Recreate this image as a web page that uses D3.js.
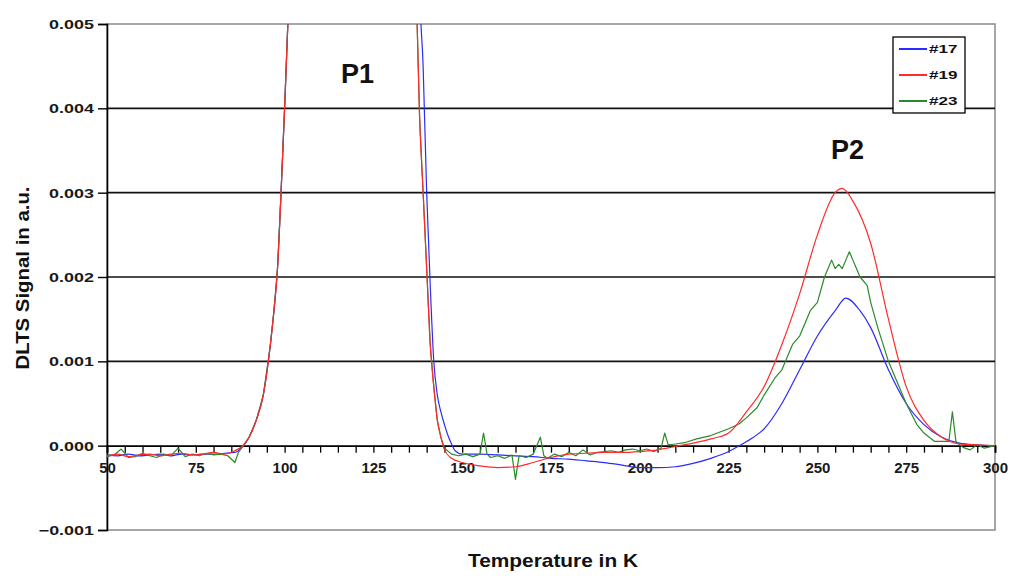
<!DOCTYPE html>
<html>
<head>
<meta charset="utf-8">
<script src="https://cdn.jsdelivr.net/npm/d3@7"></script>
<style>
  html, body { margin: 0; padding: 0; background: #fff; }
  svg { display: block; font-family: "Liberation Sans", Arial, sans-serif; }
</style>
</head>
<body>
<svg id="chart" width="1016" height="576"></svg>
<script>
// ---------- data ----------
const seriesNames = ["#17", "#19", "#23"];
const seriesColors = ["#2b2bff", "#ff2b2b", "#2a8a2a"];

const t17 = [50,53,56,59,62,65,68,71,74,77,80,83,86,88,90,92,94,96,97,98,99,100,101,103,110,130,136,137,138,139,140,141,142,143,144,145,146,147,148,150,155,160,165,170,175,180,185,190,195,200,205,210,215,220,225,228,232,235,240,245,250,255,258,262,265,270,275,280,285,290,295,300];
const v17 = [-0.00011,-0.00012,-0.0001,-0.00012,-0.00011,-0.0001,-0.00012,-0.0001,-0.00011,-0.0001,-0.0001,-0.00009,-0.00008,-0.00002,0.0001,0.0003,0.0006,0.0012,0.0016,0.0021,0.003,0.004,0.0051,0.008,0.02,0.02,0.012,0.009,0.0055,0.0045,0.003,0.0019,0.001,0.0006,0.0004,0.00025,0.00012,0.00002,-0.00006,-0.0001,-0.0001,-0.00011,-0.00012,-0.00013,-0.00015,-0.00016,-0.00018,-0.0002,-0.00023,-0.00026,-0.00026,-0.00025,-0.00021,-0.00015,-0.00007,0,0.0001,0.0002,0.0005,0.0009,0.0013,0.0016,0.00175,0.0016,0.0014,0.0009,0.0005,0.00025,0.0001,0.00003,0.00001,0];

const t19 = [50,53,56,59,62,65,68,71,74,77,80,83,86,88,90,92,94,96,97,98,99,100,101,103,110,130,135,136,137,138,139,140,141,142,143,144,145,147,150,155,160,165,170,175,180,185,190,195,200,205,210,215,220,225,230,235,240,245,250,255,257,260,265,270,275,280,285,290,295,300];
const v19 = [-0.00012,-0.0001,-0.00013,-0.00011,-0.0001,-0.00012,-0.0001,-0.00009,-0.00011,-0.0001,-0.00008,-0.0001,-0.00006,-0.00001,0.0001,0.0003,0.0006,0.0012,0.0016,0.0021,0.003,0.004,0.0051,0.008,0.02,0.02,0.009,0.0075,0.0055,0.0039,0.003,0.0021,0.0012,0.0007,0.0003,0.0001,-0.00005,-0.00015,-0.0002,-0.00024,-0.00026,-0.00025,-0.0002,-0.00014,-0.0001,-0.00009,-0.00008,-0.00008,-0.00007,-0.00005,-0.00001,0.00003,0.00008,0.00015,0.0004,0.0007,0.0012,0.0018,0.0025,0.003,0.00305,0.0029,0.0024,0.0015,0.0007,0.0003,0.0001,0.00002,0.00001,0];

const t23 = [50,52,54,56,58,60,62,64,66,68,70,72,74,76,78,80,82,84,86,87,88,90,92,94,96,97,98,99,100,101,103,110,130,135,136,137,138,139,140,141,142,143,144,145,147,149,151,153,155,156,157,158,160,162,164,165,166,168,170,172,173,174,176,178,180,182,184,186,188,190,192,194,196,198,200,202,204,206,207,208,210,213,216,220,225,228,230,233,235,238,240,243,245,248,250,252,253,254,255,256,257,258,259,260,261,262,264,265,267,270,272,275,278,280,283,285,287,288,289,291,293,295,297,300];
const v23 = [-0.00013,-0.00011,-0.00004,-0.00014,-0.00013,-0.00009,-0.00012,-0.00014,-0.0001,-0.00012,-0.00003,-0.00013,-0.0001,-0.00012,-0.00009,-0.00011,-0.0001,-0.00012,-0.0002,-0.00008,-0.00002,0.0001,0.0003,0.0006,0.0012,0.0016,0.0021,0.003,0.004,0.0051,0.008,0.02,0.02,0.009,0.0075,0.0055,0.0039,0.003,0.0021,0.0012,0.0007,0.0003,0.0001,-0.00003,-0.0001,-0.00012,-0.0001,-0.00013,-0.0001,0.00015,-0.0001,-0.00014,-0.00012,-0.00015,-0.00011,-0.0004,-0.00012,-0.00014,-0.0001,0.0001,-0.00012,-0.00015,-0.0001,-0.00013,-0.00008,-0.00012,-0.00005,-0.00011,-0.00008,-0.00007,-0.00006,-0.00008,-0.00005,-0.00004,-0.00006,-0.00004,-0.00007,-0.00003,0.00015,0.00001,0.00002,0.00004,0.00008,0.00012,0.0002,0.00026,0.00033,0.00045,0.0006,0.0008,0.0009,0.0012,0.0013,0.0016,0.0017,0.002,0.0021,0.0022,0.0021,0.00215,0.0021,0.0022,0.0023,0.0022,0.0021,0.002,0.0019,0.0017,0.0014,0.001,0.0008,0.0005,0.00025,0.00015,0.00005,0.00005,0.00005,0.0004,0.00005,-0.00002,-0.00005,0.00001,-0.00003,0];

const xTickLabels = [50, 75, 100, 125, 150, 175, 200, 225, 250, 275, 300];
const yTickLabels = [-0.001, 0.000, 0.001, 0.002, 0.003, 0.004, 0.005];
const peakLabels = ["P1", "P2"];
const peakPos = [[120.5, 0.0043], [258.5, 0.0034]];

// ---------- layout ----------
const svg = d3.select("#chart");
const L = 107, R = 995, T = 24, B = 530;
const x = d3.scaleLinear().domain([50, 300]).range([L, R]);
const y = d3.scaleLinear().domain([-0.001, 0.005]).range([B, T]);

svg.append("rect").attr("width", 1016).attr("height", 576).attr("fill", "#fff");

svg.append("defs").append("clipPath").attr("id", "clip")
  .append("rect").attr("x", L).attr("y", T).attr("width", R - L).attr("height", B - T);

// plot frame (gray)
svg.append("rect").attr("x", L).attr("y", T).attr("width", R - L).attr("height", B - T)
  .attr("fill", "none").attr("stroke", "#8a8a8a").attr("stroke-width", 1.5);

// gridlines
svg.append("g").selectAll("line").data(yTickLabels.filter(v => v > 0 && v < 0.005))
  .join("line")
  .attr("x1", L).attr("x2", R)
  .attr("y1", d => y(d)).attr("y2", d => y(d))
  .attr("stroke", "#111").attr("stroke-width", 1.6);

// y axis
const yAxis = d3.axisLeft(y).tickValues(yTickLabels).tickSize(9).tickFormat(d3.format(".3f"));
const gy = svg.append("g").attr("transform", `translate(${L},0)`).call(yAxis);
gy.select(".domain").attr("stroke", "#000").attr("stroke-width", 1.6);
gy.selectAll(".tick line").attr("stroke", "#000").attr("stroke-width", 1.4);
gy.selectAll(".tick text")
  .attr("font-family", "Liberation Sans, Arial, sans-serif")
  .attr("font-weight", "bold").attr("font-size", 13).attr("fill", "#1a1a1a")
  .attr("x", 0).attr("dy", "0.35em")
  .attr("transform", "translate(-13,0) scale(1.38,1)");

// x axis at y = 0
const xAxis = d3.axisBottom(x).tickValues(d3.range(50, 301, 5)).tickSize(7)
  .tickFormat(d => xTickLabels.includes(d) ? d : "");
const gx = svg.append("g").attr("transform", `translate(0,${y(0)})`).call(xAxis);
gx.select(".domain").attr("stroke", "#000").attr("stroke-width", 1.8);
gx.selectAll(".tick line").attr("stroke", "#000").attr("stroke-width", 1.3);
gx.selectAll(".tick text")
  .attr("font-family", "Liberation Sans, Arial, sans-serif")
  .attr("font-weight", "bold").attr("font-size", 15).attr("fill", "#1a1a1a")
  .attr("y", 22).attr("dy", "0.35em");

// series lines
const series = [
  {name: seriesNames[0], t: t17, v: v17, color: seriesColors[0], smooth: true},
  {name: seriesNames[1], t: t19, v: v19, color: seriesColors[1], smooth: true},
  {name: seriesNames[2], t: t23, v: v23, color: seriesColors[2], smooth: false}
];
const gl = svg.append("g").attr("clip-path", "url(#clip)");
[series[0], series[2], series[1]].forEach(s => {
  const line = d3.line().x(d => x(d[0])).y(d => y(d[1]))
    .curve(s.smooth ? d3.curveMonotoneX : d3.curveLinear);
  gl.append("path")
    .datum(s.t.map((t, i) => [t, s.v[i]]))
    .attr("d", line)
    .attr("fill", "none")
    .attr("stroke", s.color)
    .attr("stroke-width", 1.2)
    .attr("stroke-linejoin", "round");
});

// peak labels
svg.append("g").selectAll("text").data(peakLabels).join("text")
  .attr("x", (d, i) => x(peakPos[i][0]))
  .attr("y", (d, i) => y(peakPos[i][1]))
  .attr("text-anchor", "middle")
  .attr("font-weight", "bold").attr("font-size", 27).attr("fill", "#111")
  .text(d => d);

// axis titles
svg.append("text")
  .attr("x", 553).attr("y", 567)
  .attr("text-anchor", "middle")
  .attr("font-weight", "bold").attr("font-size", 19).attr("fill", "#111")
  .attr("textLength", 170).attr("lengthAdjust", "spacingAndGlyphs")
  .text("Temperature in K");

svg.append("text")
  .attr("transform", "translate(29,278) rotate(-90)")
  .attr("text-anchor", "middle")
  .attr("font-weight", "bold").attr("font-size", 18).attr("fill", "#111")
  .attr("textLength", 183).attr("lengthAdjust", "spacingAndGlyphs")
  .text("DLTS Signal in a.u.");

// legend
const lg = svg.append("g");
lg.append("rect").attr("x", 893).attr("y", 37).attr("width", 72).attr("height", 76)
  .attr("fill", "#fff").attr("stroke", "#000").attr("stroke-width", 1.3);
const items = lg.selectAll("g.item").data(series).join("g")
  .attr("transform", (d, i) => `translate(0,${49 + i * 26})`);
items.append("line").attr("x1", 899).attr("x2", 927).attr("y1", 0).attr("y2", 0)
  .attr("stroke", d => d.color).attr("stroke-width", 2);
items.append("text").attr("x", 0).attr("y", 0).attr("dy", "0.36em")
  .attr("transform", "translate(929,0) scale(1.55,1)")
  .attr("font-weight", "bold").attr("font-size", 11).attr("fill", "#111")
  .text(d => d.name);
</script>
</body>
</html>
